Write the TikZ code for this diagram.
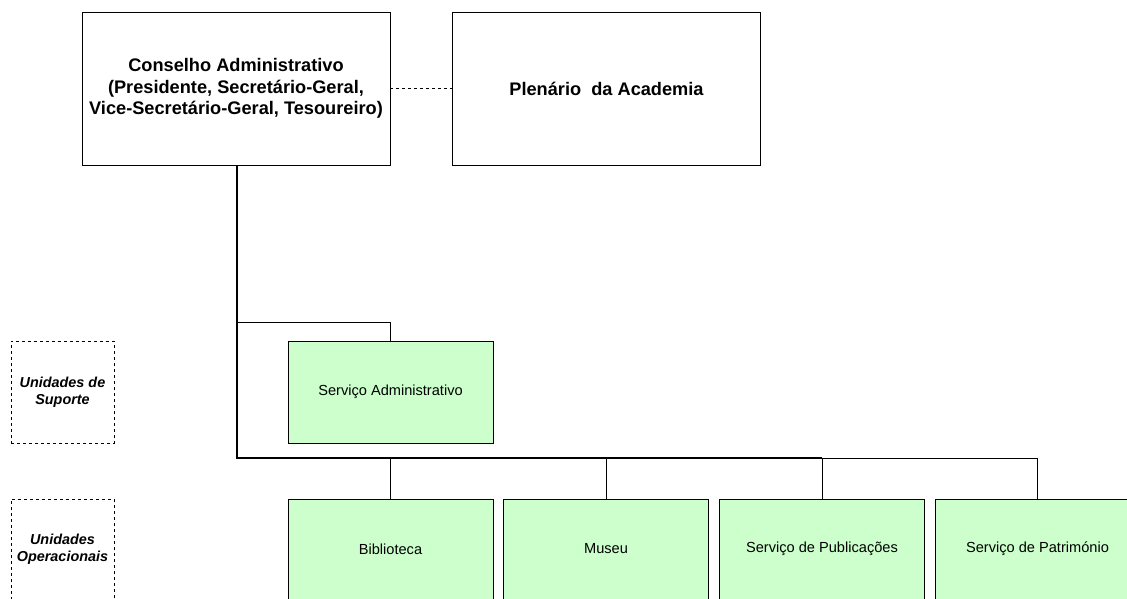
\documentclass[tikz,border=0pt]{standalone}
\usepackage{fontspec}
\setmainfont{Liberation Sans}
\begin{document}
\begin{tikzpicture}[x=1pt,y=-1pt,
  topbox/.style={draw=black,line width=0.8pt,fill=white,minimum width=308pt,minimum height=153pt,
    align=center,font=\fontsize{18.2}{21.5}\selectfont\bfseries,inner sep=0pt},
  unitbox/.style={draw=black,line width=0.7pt,fill=green!20,minimum width=205pt,minimum height=102pt,
    align=center,font=\fontsize{14.6}{17}\selectfont,inner sep=0pt},
  unittext/.style={font=\fontsize{14.6}{17}\selectfont,inner sep=0pt},
  levelbox/.style={draw=black,dashed,line width=0.6pt,minimum width=103pt,minimum height=102pt,
    align=center,font=\fontsize{14.4}{17}\selectfont\bfseries\itshape,inner sep=0pt},
  spine/.style={line width=1.6pt},
  branch/.style={line width=0.6pt}]
\useasboundingbox (0,0) rectangle (1127,598);
\clip (0,0) rectangle (1127,598);
\fill[white] (0,0) rectangle (1127,598);

% governing bodies
\node[topbox] (conselho) at (236,88.5) {Conselho Administrativo\\(Presidente, Secretário-Geral,\\Vice-Secretário-Geral, Tesoureiro)};
\node[topbox] (plenario) at (606.5,88.5) {Plenário\ \ da Academia};
\draw[dashed,line width=0.6pt] (conselho.east) -- (plenario.west);

% level labels
\node[levelbox] (suporte) at (62.5,392) {Unidades de\\Suporte};
\node[levelbox,minimum height=140pt] (operac) at (62.5,569) {};
\node[font=\fontsize{14.4}{17}\selectfont\bfseries\itshape,align=center,inner sep=0pt] (operactxt) at (62.5,549) {Unidades\\Operacionais};

% units
\node[unitbox] (admin) at (390.5,392) {Serviço Administrativo};
\node[unitbox,minimum height=140pt] (biblio) at (390.5,569) {};
\node[unitbox,minimum height=140pt] (museu) at (606,569) {};
\node[unitbox,minimum height=140pt] (public) at (822,569) {};
\node[unitbox,minimum height=140pt] (patrim) at (1037.5,569) {};
\node[unittext] (biblioT) at (390.5,549) {Biblioteca};
\node[unittext] (museuT) at (606,549) {Museu};
\node[unittext] (publicT) at (822,549) {Serviço de Publicações};
\node[unittext] (patrimT) at (1037.5,549) {Serviço de Património};

% connectors
\coordinate (j1) at (237,322);
\coordinate (j2) at (237,458);
\draw[spine] ([xshift=1pt]conselho.south) -- (j2) -- (museu.north |- j2) -- (public.north |- j2);
\draw[branch] (public.north |- j2) -- (patrim.north |- j2);
\draw[branch] (j1) -- (admin.north |- j1) -- (admin.north);
\draw[branch] (biblio.north |- j2) -- (biblio.north);
\draw[branch] (museu.north |- j2) -- (museu.north);
\draw[branch] (public.north |- j2) -- (public.north);
\draw[branch] (patrim.north |- j2) -- (patrim.north);
\end{tikzpicture}
\end{document}
